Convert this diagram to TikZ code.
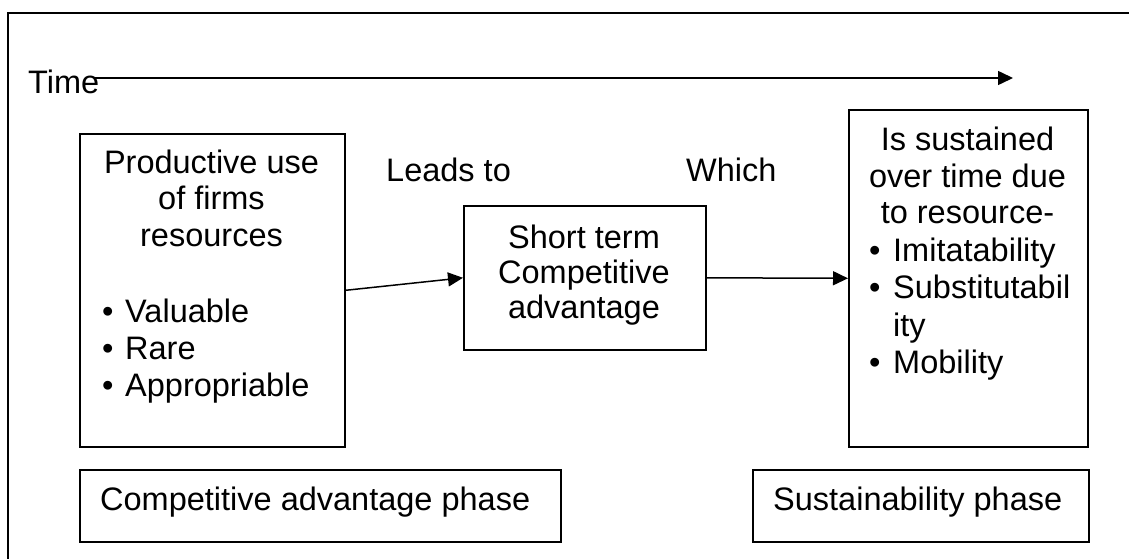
\documentclass[tikz,border=0pt]{standalone}
\usepackage{fontspec}
\setmainfont{Liberation Sans}
\usetikzlibrary{arrows.meta}

\tikzset{
  frame/.style={draw=black, line width=1.6pt},
  box/.style={draw=black, line width=1.6pt, rectangle, inner sep=0pt, anchor=north west},
  txt/.style={inner sep=0pt, anchor=base, font=\fontsize{32.5}{36}\selectfont},
  txtw/.style={txt, anchor=base west},
  arr/.style={line width=1.5pt, -{Triangle[length=15pt,width=14pt]}},
}

\begin{document}
\begin{tikzpicture}[x=1pt, y=-1pt]
  \useasboundingbox (0,0) rectangle (1129,559);
  \fill[white] (0,0) rectangle (1129,559);
  \clip (0,0) rectangle (1129,559);

  % outer frame, running off the right and bottom edges
  \draw[frame] (8,13) rectangle (1160,590);

  % time axis
  \node[txtw] (time) at (28,94) {Time};
  \coordinate (tstart) at (95,78);
  \coordinate (tend) at (1013,78);
  \draw[arr] (tstart) -- (tend);

  % resources box
  \node[box, minimum width=265pt, minimum height=313pt] (res) at (79,133) {};
  \node[txt] (r1) at (211.5,173) {Productive use};
  \node[txt] (r2) at (211.5,209.5) {of firms};
  \node[txt] (r3) at (211.5,246) {resources};
  \node[txtw] (rb1) at (102,322) {\textbullet};
  \node[txtw] (rt1) at (125,322) {Valuable};
  \node[txtw] (rb2) at (102,359) {\textbullet};
  \node[txtw] (rt2) at (125,359) {Rare};
  \node[txtw] (rb3) at (102,396) {\textbullet};
  \node[txtw] (rt3) at (125,396) {Appropriable};

  % short term advantage box
  \node[box, minimum width=242pt, minimum height=144pt] (short) at (463,205) {};
  \node[txt] (s1) at (584,248) {Short term};
  \node[txt] (s2) at (584,283) {Competitive};
  \node[txt] (s3) at (584,318) {advantage};

  % sustained advantage box
  \node[box, minimum width=239pt, minimum height=337pt] (sust) at (848,109) {};
  \node[txt] (u1) at (967.5,150) {Is sustained};
  \node[txt] (u2) at (967.5,187) {over time due};
  \node[txt] (u3) at (967.5,223) {to resource-};
  \node[txtw] (ub1) at (869,261) {\textbullet};
  \node[txtw] (ut1) at (893,261) {Imitatability};
  \node[txtw] (ub2) at (869,298) {\textbullet};
  \node[txtw] (ut2) at (893,298) {Substitutabil};
  \node[txtw] (ut2b) at (893,336) {ity};
  \node[txtw] (ub3) at (869,373) {\textbullet};
  \node[txtw] (ut3) at (893,373) {Mobility};

  % connector labels
  \node[txtw] (leads) at (386,181) {Leads to};
  \node[txtw] (which) at (686,181) {Which};

  % connectors
  \draw[arr] (res.east) -- (short.west);
  \draw[arr] (short.east) -- (sust.west);

  % phase boxes
  \node[box, minimum width=481pt, minimum height=72pt] (phase1) at (79,469) {};
  \node[txtw] (p1) at (100,510) {Competitive advantage phase};
  \node[box, minimum width=336pt, minimum height=72pt] (phase2) at (752,469) {};
  \node[txtw] (p2) at (773,510) {Sustainability phase};
\end{tikzpicture}
\end{document}
